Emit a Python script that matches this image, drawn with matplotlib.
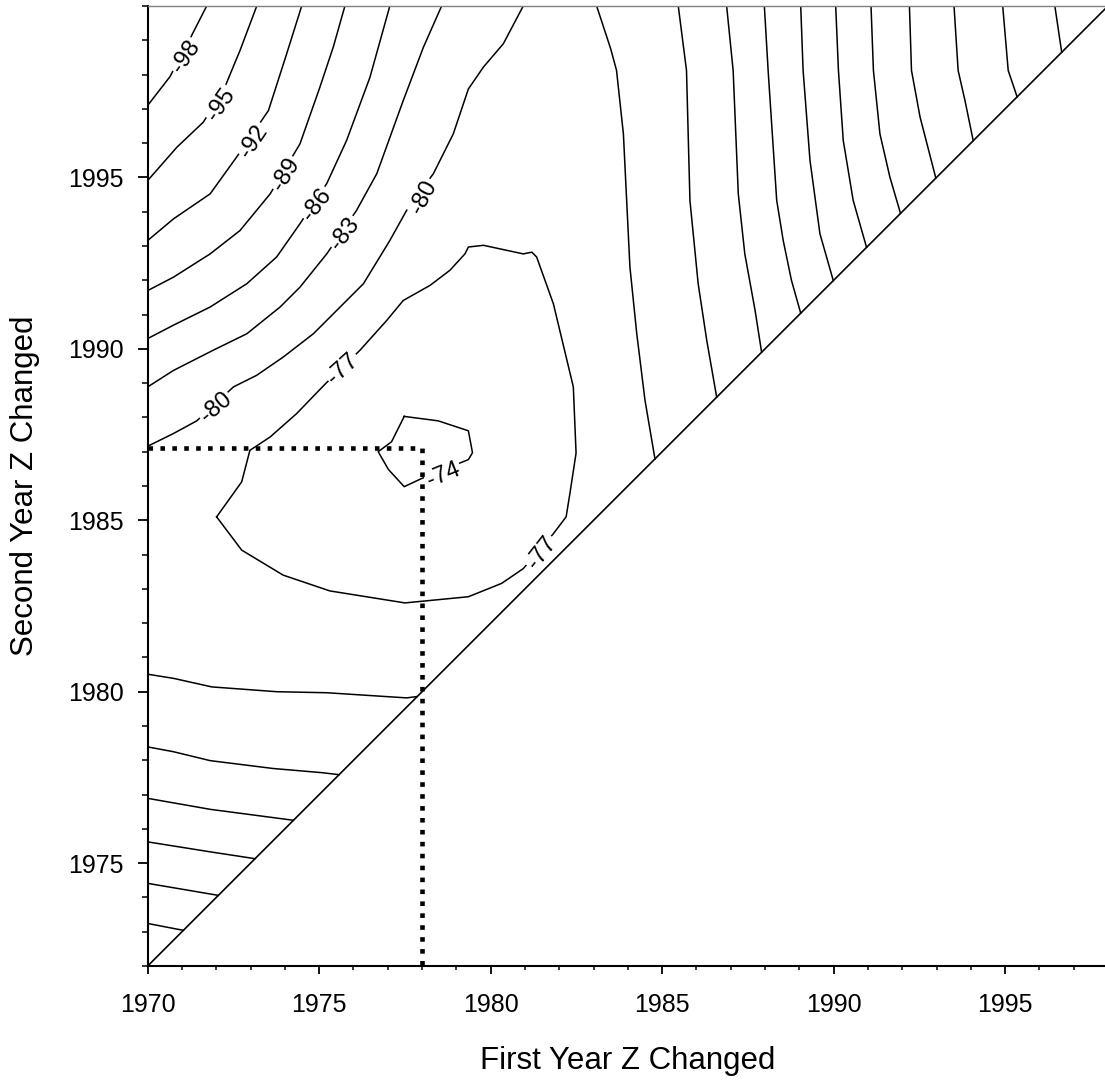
import matplotlib
matplotlib.use("Agg")
import matplotlib.pyplot as plt
from matplotlib.ticker import MultipleLocator, FixedLocator

plt.rcParams['font.family'] = ['Liberation Sans', 'DejaVu Sans']

# contour lines as (first year, second year) points
# upper left family
c98 = [(1970.0, 1997.1), (1970.65, 1997.94), (1971.23, 1999.04), (1971.72, 2000.0)]
c95 = [(1970.0, 1994.91), (1970.85, 1995.88), (1971.62, 1996.61), (1972.21, 1997.54),
       (1972.69, 1998.7), (1973.18, 2000.0)]
c92 = [(1970.0, 1993.16), (1970.75, 1993.79), (1971.82, 1994.52), (1972.59, 1995.59),
       (1973.52, 1996.95), (1974.05, 1998.6), (1974.49, 2000.0)]
c89 = [(1970.0, 1991.7), (1970.75, 1992.09), (1971.82, 1992.77), (1972.69, 1993.45),
       (1973.57, 1994.52), (1974.44, 1995.98), (1975.02, 1997.63), (1975.41, 1998.8),
       (1975.75, 2000.0)]
c86 = [(1970.0, 1990.3), (1970.75, 1990.69), (1971.82, 1991.22), (1972.89, 1991.9),
       (1973.76, 1992.68), (1974.44, 1993.65), (1975.22, 1994.82), (1975.8, 1996.08),
       (1976.48, 1997.92), (1977.06, 2000.0)]
c83 = [(1970.0, 1988.89), (1970.75, 1989.37), (1971.91, 1989.96), (1972.89, 1990.44),
       (1973.86, 1991.22), (1974.44, 1991.8), (1975.22, 1992.77), (1976.09, 1994.04),
       (1976.68, 1995.11), (1977.45, 1997.24), (1978.04, 1998.8), (1978.57, 2000.0)]
c80 = [(1970.0, 1987.16), (1970.75, 1987.53), (1971.43, 1987.9), (1972.5, 1988.89),
       (1973.18, 1989.23), (1973.95, 1989.76), (1974.83, 1990.44), (1975.51, 1991.12),
       (1976.29, 1991.9), (1977.06, 1993.16), (1977.55, 1994.04), (1978.33, 1995.11),
       (1978.91, 1996.27), (1979.35, 1997.58), (1979.79, 1998.22), (1980.37, 1998.9),
       (1980.95, 2000.0)]

# closed loops around the maximum
c77 = [(1972.01, 1985.1), (1972.74, 1986.12), (1972.98, 1987.04), (1973.57, 1987.43),
       (1974.34, 1988.11), (1975.2, 1989.0), (1976.19, 1989.96), (1976.97, 1990.83),
       (1977.45, 1991.41), (1978.23, 1991.85), (1978.81, 1992.29), (1979.25, 1992.77),
       (1979.35, 1992.97), (1979.79, 1993.02), (1980.95, 1992.77), (1981.2, 1992.82),
       (1981.34, 1992.68), (1981.83, 1991.31), (1982.41, 1988.89), (1982.49, 1986.96),
       (1982.31, 1985.78), (1982.2, 1985.1), (1981.83, 1984.61), (1980.95, 1983.59),
       (1980.32, 1983.16), (1979.35, 1982.77), (1977.5, 1982.59), (1975.31, 1982.94),
       (1973.95, 1983.4), (1972.74, 1984.13), (1972.01, 1985.1)]
c74 = [(1977.48, 1988.03), (1978.47, 1987.9), (1979.35, 1987.61), (1979.47, 1986.97),
       (1979.35, 1986.77), (1977.99, 1986.22), (1977.48, 1985.98), (1977.02, 1986.48),
       (1976.72, 1987.0), (1977.11, 1987.29), (1977.48, 1988.03)]

# right hand family, top edge down to the diagonal
r80 = [(1983.09, 2000.0), (1983.5, 1998.75), (1983.67, 1998.12), (1983.87, 1996.27),
       (1984.06, 1992.39), (1984.26, 1990.44), (1984.5, 1988.5), (1984.79, 1986.79)]
r83 = [(1985.47, 2000.0), (1985.71, 1998.12), (1985.81, 1994.33), (1986.05, 1991.9),
       (1986.3, 1990.25), (1986.59, 1988.59)]
r86 = [(1986.88, 2000.0), (1987.07, 1998.12), (1987.22, 1994.52), (1987.41, 1992.77),
       (1987.71, 1991.12), (1987.9, 1989.9)]
r89 = [(1987.98, 2000.0), (1988.09, 1998.12), (1988.34, 1994.33), (1988.53, 1993.16),
       (1988.77, 1992.0), (1989.04, 1991.04)]
r92 = [(1989.04, 2000.0), (1989.11, 1998.12), (1989.31, 1995.5), (1989.6, 1993.36),
       (1989.99, 1991.99)]
r95 = [(1990.06, 2000.0), (1990.14, 1998.12), (1990.28, 1996.08), (1990.57, 1994.33),
       (1990.96, 1992.96)]
r98 = [(1991.09, 2000.0), (1991.16, 1998.12), (1991.35, 1996.27), (1991.64, 1995.01),
       (1991.95, 1993.95)]
r101 = [(1992.21, 2000.0), (1992.27, 1998.12), (1992.52, 1996.76), (1992.98, 1994.98)]
r104 = [(1993.51, 2000.0), (1993.63, 1998.12), (1993.83, 1997.24), (1994.07, 1996.07)]
r107 = [(1994.93, 2000.0), (1995.09, 1998.12), (1995.35, 1997.35)]
r110 = [(1996.45, 2000.0), (1996.65, 1998.65)]

# lower left family, left edge to the diagonal
b80 = [(1970.0, 1980.51), (1970.75, 1980.39), (1971.87, 1980.14), (1973.76, 1980.0),
       (1975.22, 1979.97), (1977.55, 1979.82), (1977.86, 1979.86)]
b83 = [(1970.0, 1978.39), (1970.75, 1978.25), (1971.82, 1977.99), (1973.66, 1977.76),
       (1975.07, 1977.64), (1975.58, 1977.58)]
b86 = [(1970.0, 1976.89), (1971.82, 1976.57), (1974.25, 1976.25)]
b89 = [(1970.0, 1975.62), (1971.82, 1975.33), (1973.13, 1975.13)]
b92 = [(1970.0, 1974.41), (1972.06, 1974.06)]
b95 = [(1970.0, 1973.24), (1971.04, 1973.04)]

# contour labels
label_text = ['-98', '-95', '-92', '-89', '-86', '-83', '-80', '-80', '-77', '-74', '-77']
label_x = [1971.12, 1972.13, 1973.1, 1974.02, 1974.93, 1975.75, 1978.05, 1971.99, 1975.7, 1978.62, 1981.49]
label_y = [1998.51, 1997.13, 1996.06, 1995.09, 1994.21, 1993.36, 1994.43, 1988.28, 1989.42, 1986.32, 1984.05]
label_rot = [55, 55, 56, 58, 52, 52, 62, 40, 42, 22, 52]

# second year must be later than the first: boundary line
diag_x = [1970, 1998]
diag_y = [1972, 2000]

# best pair of years
best_first = 1978
best_second = 1987.1

fig = plt.figure(figsize=(11.05, 10.82), dpi=100)
ax = fig.add_axes([0.13367, 0.10721, 0.86905, 0.88725])

lines = [c98, c95, c92, c89, c86, c83, c80, c77, c74,
         r80, r83, r86, r89, r92, r95, r98, r101, r104, r107, r110,
         b80, b83, b86, b89, b92, b95]
for pts in lines:
    xs, ys = zip(*pts)
    ax.plot(xs, ys, color='black', lw=1.1, zorder=2)

for t, x, y, r in zip(label_text, label_x, label_y, label_rot):
    ax.text(x, y, t, rotation=r, ha='center', va='center', fontsize=17,
            rotation_mode='anchor', zorder=3,
            bbox=dict(boxstyle='square,pad=0.08', fc='white', ec='none'))

ax.plot(diag_x, diag_y, color='black', lw=1.2, zorder=3.5)

ax.plot([1970, best_first, best_first], [best_second, best_second, 1972],
        color='black', lw=3.3, linestyle=(0, (1, 1.6)), dash_capstyle='butt',
        zorder=4, clip_on=False)

ax.set_xlim(1970, 1998)
ax.set_ylim(1972, 2000)

ax.xaxis.set_major_locator(FixedLocator([1970, 1975, 1980, 1985, 1990, 1995]))
ax.xaxis.set_minor_locator(MultipleLocator(1))
ax.yaxis.set_major_locator(FixedLocator([1975, 1980, 1985, 1990, 1995]))
ax.yaxis.set_minor_locator(MultipleLocator(1))

ax.tick_params(axis='x', which='major', direction='out', length=5.8, width=1.3,
               pad=13.5, labelsize=18)
ax.tick_params(axis='x', which='minor', direction='out', length=3.0, width=1.1)
ax.tick_params(axis='y', which='major', direction='out', length=7.5, width=1.3,
               pad=10, labelsize=18)
ax.tick_params(axis='y', which='minor', direction='out', length=4.3, width=1.1)

ax.spines['left'].set_linewidth(1.5)
ax.spines['bottom'].set_linewidth(1.5)
ax.spines['top'].set_color('#808080')
ax.spines['top'].set_linewidth(1.0)
ax.spines['right'].set_visible(False)

ax.set_xlabel('First Year Z Changed', fontsize=22.5, va='baseline')
ax.xaxis.set_label_coords(0.5, -0.1073)
ax.set_ylabel('Second Year Z Changed', fontsize=22.5, va='center')
ax.yaxis.set_label_coords(-0.1278, 0.5)

fig.savefig('out.png', dpi=100)
